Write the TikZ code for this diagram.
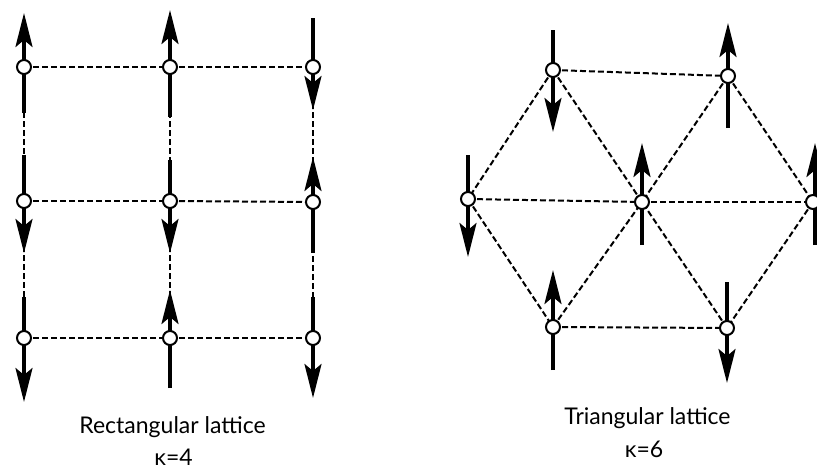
\documentclass[tikz,border=0pt]{standalone}
\usepackage{fontspec}
\setmainfont{Lato}
\usetikzlibrary{arrows.meta,calc}
\begin{document}
\begin{tikzpicture}[x=1pt,y=-1pt,
  site/.style={circle,draw=black,fill=white,line width=2pt,inner sep=0pt,minimum size=14pt},
  bond/.style={draw=black,line width=2pt,dash pattern=on 6pt off 3pt},
  spin/.style={draw=black,line width=3.4pt,-{Stealth[length=34pt,width=17pt,inset=7pt]}},
  lbl/.style={anchor=base,inner sep=0pt,font=\fontsize{23}{26}\selectfont}]
\useasboundingbox (0,0) rectangle (817,469);
% rectangular lattice sites
\coordinate (r11) at (24,67);  \coordinate (r12) at (170,67);  \coordinate (r13) at (313,67);
\coordinate (r21) at (24,201); \coordinate (r22) at (170,201); \coordinate (r23) at (313,202);
\coordinate (r31) at (24,338); \coordinate (r32) at (170,338); \coordinate (r33) at (313,338);
% bonds
\foreach \a/\b in {r11/r12,r12/r13,r21/r22,r22/r23,r31/r32,r32/r33,r11/r21,r21/r31,r12/r22,r22/r32,r13/r23,r23/r33}
  \draw[bond] (\a) -- (\b);
% spins
\draw[spin] ($(r11)+(0,46)$) -- ($(r11)+(0,-54)$);
\draw[spin] ($(r12)+(0,50)$) -- ($(r12)+(0,-57)$);
\draw[spin] ($(r13)+(0,-49)$) -- ($(r13)+(0,43)$);
\draw[spin] ($(r21)+(0,-46)$) -- ($(r21)+(0,52)$);
\draw[spin] ($(r22)+(0,-41)$) -- ($(r22)+(0,52)$);
\draw[spin] ($(r23)+(0,51)$) -- ($(r23)+(0,-45)$);
\draw[spin] ($(r31)+(0,-41)$) -- ($(r31)+(0,64)$);
\draw[spin] ($(r32)+(0,50)$) -- ($(r32)+(0,-48)$);
\draw[spin] ($(r33)+(0,-41)$) -- ($(r33)+(0,60)$);
\foreach \s in {r11,r12,r13,r21,r22,r23,r31,r32,r33}
  \node[site] (n\s) at (\s) {};
% triangular lattice sites
\coordinate (t1) at (553,70);  \coordinate (t2) at (728,76);
\coordinate (t3) at (468,199); \coordinate (t4) at (642,202); \coordinate (t5) at (813,202);
\coordinate (t6) at (553,327); \coordinate (t7) at (727,328);
\foreach \a/\b in {t1/t2,t1/t3,t2/t5,t3/t6,t5/t7,t6/t7,t3/t4,t4/t5,t1/t4,t2/t4,t6/t4,t7/t4}
  \draw[bond] (\a) -- (\b);
\draw[spin] ($(t1)+(0,-40)$) -- ($(t1)+(0,62)$);
\draw[spin] ($(t2)+(0,52)$) -- ($(t2)+(0,-53)$);
\draw[spin] ($(t3)+(0,-44)$) -- ($(t3)+(0,58)$);
\draw[spin] ($(t4)+(0,43)$) -- ($(t4)+(0,-59)$);
\draw[spin] ($(t5)+(2,43)$) -- ($(t5)+(2,-59)$);
\draw[spin] ($(t6)+(0,43)$) -- ($(t6)+(0,-57)$);
\draw[spin] ($(t7)+(0,-46)$) -- ($(t7)+(0,55)$);
\foreach \s in {t1,t2,t3,t4,t5,t6,t7}
  \node[site] (n\s) at (\s) {};
% labels
\node[lbl] (lr1) at (172.5,433) {Rectangular lattice};
\node[lbl] (lr2) at (173.5,465) {κ=4};
\node[lbl] (lt1) at (647.5,424) {Triangular lattice};
\node[lbl] (lt2) at (644,457) {κ=6};
\end{tikzpicture}
\end{document}
